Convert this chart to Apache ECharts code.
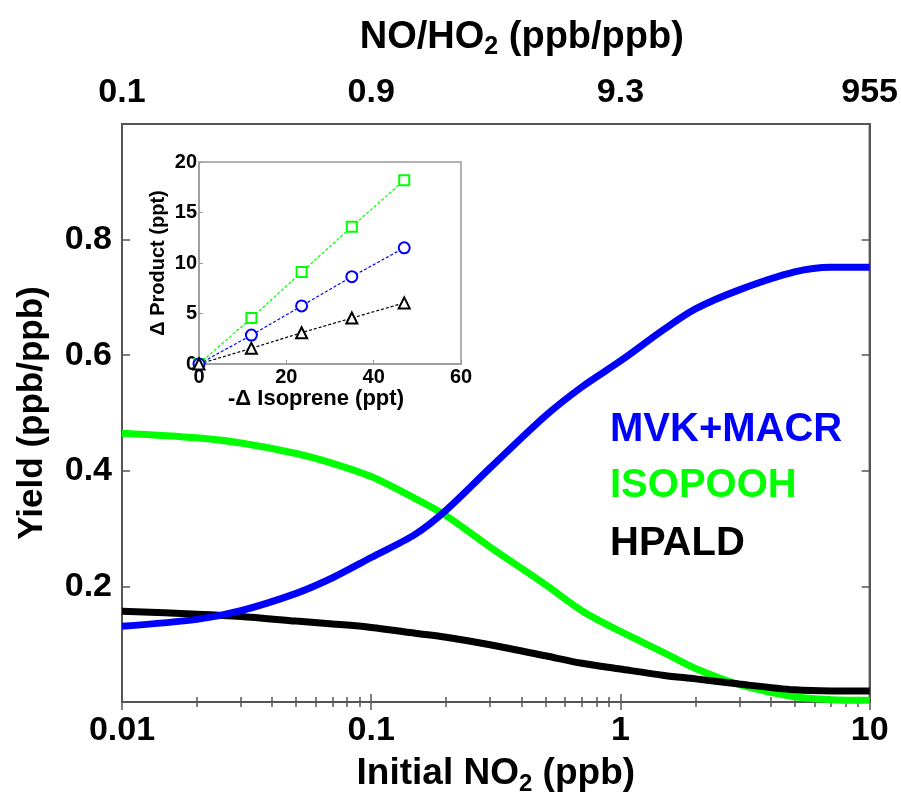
<!DOCTYPE html>
<html>
<head>
<meta charset="utf-8">
<title>Yield vs initial NO2</title>
<script src="https://cdn.jsdelivr.net/npm/echarts@6/dist/echarts.min.js"></script>
<style>
  html, body { margin: 0; padding: 0; background: #fff; }
  #main { width: 901px; height: 801px; }
</style>
</head>
<body>
<div id="main"></div>
<script>
// main panel: initial NO2 (ppb), log axis
var no2 = [0.01, 0.02, 0.03, 0.05, 0.07, 0.1, 0.15, 0.2, 0.3, 0.5, 0.7, 1, 1.5, 2, 3, 5, 7, 10];
var mvkMacr = [0.131, 0.143, 0.158, 0.188, 0.215, 0.25, 0.29, 0.332, 0.405, 0.495, 0.545, 0.59, 0.645, 0.68, 0.713, 0.744, 0.752, 0.752];
var isopooh = [0.465, 0.457, 0.448, 0.43, 0.413, 0.39, 0.352, 0.322, 0.268, 0.203, 0.158, 0.122, 0.085, 0.058, 0.03, 0.009, 0.004, 0.003];
var hpald = [0.157, 0.152, 0.148, 0.14, 0.135, 0.129, 0.119, 0.112, 0.099, 0.08, 0.067, 0.057, 0.046, 0.04, 0.031, 0.021, 0.019, 0.019];

var bottomLabels = ['0.01', '0.1', '1', '10'];
var topLabels = ['0.1', '0.9', '9.3', '955'];

// inset: -Δ isoprene vs Δ product (ppt)
var insetX = [0, 12, 23.5, 35, 47];
var insetIsopooh = [0, 4.55, 9.1, 13.6, 18.2];
var insetMvk = [0, 2.86, 5.75, 8.65, 11.5];
var insetHpald = [0, 1.55, 3.1, 4.55, 6.05];

var FONT = '"Liberation Sans", Arial, sans-serif';
var BLUE = '#0000ff', GREEN = '#00ff00', BLACK = '#000000';

function pairs(xs, ys) {
  return xs.map(function (x, i) { return [x, ys[i]]; });
}

// fresh style objects for each axis
function mainLabel(extra) {
  return Object.assign({ color: '#000', fontFamily: FONT, fontWeight: 'bold', fontSize: 34 }, extra);
}
function insetLabel(extra) {
  return Object.assign({ color: '#000', fontFamily: FONT, fontWeight: 'bold', fontSize: 20 }, extra);
}
function frameLine() { return { show: true, lineStyle: { color: '#555', width: 2 } }; }
function insetFrame() { return { show: true, lineStyle: { color: '#999', width: 1.5 } }; }
function mainTick() { return { show: true, inside: true, length: 8, lineStyle: { color: '#555', width: 1.5 } }; }
function mainMinor() { return { show: true, splitNumber: 9, length: 5, lineStyle: { color: '#555', width: 1.5 } }; }
function insetTick() { return { show: true, inside: true, length: 4, lineStyle: { color: '#999', width: 1 } }; }

var chart = echarts.init(document.getElementById('main'), null, { renderer: 'canvas' });

var option = {
  backgroundColor: '#fff',
  animation: false,
  // grid borders give the closed frames
  grid: [
    { left: 122, top: 124, width: 751, height: 580, show: true, borderColor: '#555', borderWidth: 2, backgroundColor: 'transparent' },
    { left: 199, top: 162, width: 262, height: 202, show: true, borderColor: '#999', borderWidth: 1.5, backgroundColor: '#fff' }
  ],
  xAxis: [
    {
      type: 'log', gridIndex: 0, position: 'bottom', min: 0.01, max: 10, logBase: 10,
      name: '{a|Initial NO}{s|2}{a| (ppb)}',
      nameLocation: 'middle', nameGap: 50,
      nameTextStyle: {
        rich: {
          a: { fontFamily: FONT, fontWeight: 'bold', fontSize: 37, color: '#000' },
          s: { fontFamily: FONT, fontWeight: 'bold', fontSize: 24, color: '#000', padding: [20, 0, 0, 0] }
        }
      },
      axisLine: frameLine(),
      axisTick: mainTick(),
      minorTick: mainMinor(),
      splitLine: { show: false },
      axisLabel: mainLabel({ margin: 12, formatter: function (v, i) { return bottomLabels[i]; } })
    },
    {
      type: 'log', gridIndex: 0, position: 'top', min: 0.01, max: 10, logBase: 10,
      name: '{a|NO/HO}{s|2}{a| (ppb/ppb)}',
      nameLocation: 'middle', nameGap: 64,
      nameTextStyle: {
        padding: [0, 0, 0, 52],
        rich: {
          a: { fontFamily: FONT, fontWeight: 'bold', fontSize: 38, color: '#000' },
          s: { fontFamily: FONT, fontWeight: 'bold', fontSize: 25, color: '#000', padding: [20, 0, 0, 0] }
        }
      },
      axisLine: frameLine(),
      axisTick: mainTick(),
      minorTick: mainMinor(),
      splitLine: { show: false },
      axisLabel: mainLabel({ margin: 14, formatter: function (v, i) { return topLabels[i]; } })
    },
    {
      type: 'value', gridIndex: 1, position: 'bottom', min: 0, max: 60, interval: 20,
      name: '-Δ Isoprene (ppt)', nameLocation: 'middle', nameGap: 20,
      nameTextStyle: { fontFamily: FONT, fontWeight: 'bold', fontSize: 22, color: '#000', padding: [0, 28, 0, 0] },
      axisLine: insetFrame(),
      axisTick: insetTick(),
      splitLine: { show: false },
      axisLabel: insetLabel({ margin: 3 })
    }
  ],
  yAxis: [
    {
      type: 'value', gridIndex: 0, position: 'left', min: 0, max: 1, interval: 0.2,
      name: 'Yield (ppb/ppb)', nameLocation: 'middle', nameGap: 72,
      nameTextStyle: { fontFamily: FONT, fontWeight: 'bold', fontSize: 35, color: '#000' },
      axisLine: frameLine(),
      axisTick: mainTick(),
      splitLine: { show: false },
      axisLabel: mainLabel({
        margin: 10,
        formatter: function (v) { return (v > 0.01 && v < 0.99) ? v.toFixed(1) : ''; }
      })
    },
    {
      type: 'value', gridIndex: 0, position: 'right', min: 0, max: 1, interval: 0.2,
      axisLine: frameLine(),
      axisTick: mainTick(),
      splitLine: { show: false },
      axisLabel: { show: false }
    },
    {
      type: 'value', gridIndex: 1, position: 'left', min: 0, max: 20, interval: 5,
      name: 'Δ Product (ppt)', nameLocation: 'middle', nameGap: 31,
      nameTextStyle: { fontFamily: FONT, fontWeight: 'bold', fontSize: 20, color: '#000' },
      axisLine: insetFrame(),
      axisTick: insetTick(),
      splitLine: { show: false },
      axisLabel: insetLabel({ margin: 2 })
    }
  ],
  series: [
    {
      name: 'ISOPOOH', type: 'line', xAxisIndex: 0, yAxisIndex: 0, smooth: 0.3,
      showSymbol: false, data: pairs(no2, isopooh),
      lineStyle: { color: GREEN, width: 7 }, itemStyle: { color: GREEN }
    },
    {
      name: 'HPALD', type: 'line', xAxisIndex: 0, yAxisIndex: 0, smooth: 0.3,
      showSymbol: false, data: pairs(no2, hpald),
      lineStyle: { color: BLACK, width: 7 }, itemStyle: { color: BLACK }
    },
    {
      name: 'MVK+MACR', type: 'line', xAxisIndex: 0, yAxisIndex: 0, smooth: 0.3,
      showSymbol: false, data: pairs(no2, mvkMacr),
      lineStyle: { color: BLUE, width: 7 }, itemStyle: { color: BLUE }
    },
    {
      name: 'ISOPOOH inset', type: 'line', xAxisIndex: 2, yAxisIndex: 2,
      data: pairs(insetX, insetIsopooh), symbol: 'rect', symbolSize: 10,
      lineStyle: { color: GREEN, width: 1.2, type: [3, 2] },
      itemStyle: { color: '#fff', borderColor: GREEN, borderWidth: 2 }
    },
    {
      name: 'MVK+MACR inset', type: 'line', xAxisIndex: 2, yAxisIndex: 2,
      data: pairs(insetX, insetMvk), symbol: 'circle', symbolSize: 11,
      lineStyle: { color: BLUE, width: 1.2, type: [3, 2] },
      itemStyle: { color: '#fff', borderColor: BLUE, borderWidth: 2 }
    },
    {
      name: 'HPALD inset', type: 'line', xAxisIndex: 2, yAxisIndex: 2,
      data: pairs(insetX, insetHpald), symbol: 'triangle', symbolSize: 11,
      lineStyle: { color: BLACK, width: 1.2, type: [3, 2] },
      itemStyle: { color: '#fff', borderColor: BLACK, borderWidth: 2 }
    }
  ],
  // coloured series names inside the main panel
  graphic: [
    { type: 'text', left: 610, top: 410, style: { text: 'MVK+MACR', fill: BLUE, font: 'bold 40px ' + FONT } },
    { type: 'text', left: 610, top: 466, style: { text: 'ISOPOOH', fill: GREEN, font: 'bold 40px ' + FONT } },
    { type: 'text', left: 610, top: 524, style: { text: 'HPALD', fill: BLACK, font: 'bold 40px ' + FONT } }
  ]
};

chart.setOption(option);
</script>
</body>
</html>
